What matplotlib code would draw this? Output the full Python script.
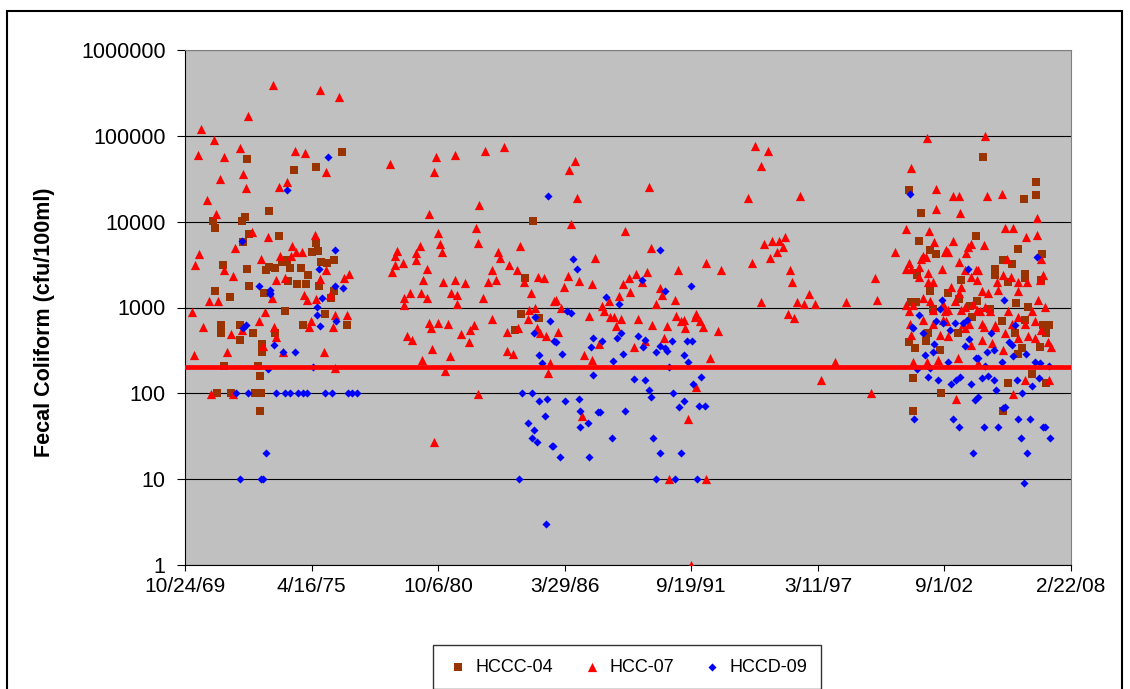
import datetime as dt

import matplotlib
matplotlib.use('Agg')
import matplotlib.pyplot as plt
from matplotlib.patches import Rectangle
from matplotlib.ticker import FixedLocator, NullLocator

plt.rcParams['font.family'] = ['Liberation Sans', 'DejaVu Sans']

# sample date (decimal year), fecal coliform (cfu/100ml)
hccc04 = [
    (1972.50, 54000), (1973.46, 13200), (1971.04, 10200), (1972.26, 10200), (1972.42, 11300),
    (1971.12, 8400), (1972.57, 7200), (1972.34, 5800), (1971.44, 3100), (1972.50, 2800),
    (1973.30, 2700), (1973.46, 3000), (1972.57, 1780), (1971.12, 1540), (1971.76, 1320),
    (1973.23, 1460), (1971.35, 620), (1971.35, 510), (1972.17, 620), (1972.76, 510),
    (1972.19, 415), (1973.15, 375), (1973.15, 305), (1971.52, 210), (1972.99, 210),
    (1973.06, 160), (1971.21, 100), (1971.81, 100), (1972.86, 100), (1973.09, 100),
    (1973.06, 62), (1976.61, 65000), (1974.51, 39600), (1975.46, 43700), (1973.86, 6870),
    (1975.46, 5600), (1975.32, 4400), (1975.56, 4600), (1974.02, 3350), (1974.23, 3550),
    (1975.71, 3400), (1975.97, 3270), (1976.25, 3570), (1973.70, 2900), (1974.35, 2900),
    (1974.83, 2860), (1975.13, 2370), (1974.28, 2050), (1974.66, 1860), (1975.05, 1860),
    (1975.63, 1780), (1976.27, 1540), (1976.12, 1290), (1974.12, 920), (1975.88, 840),
    (1974.92, 625), (1976.84, 620), (1973.70, 500), (1984.85, 10200), (1984.52, 2190),
    (1984.35, 840), (1985.11, 760), (1984.11, 540), (2001.14, 23200), (2001.63, 12600),
    (2001.56, 6000), (2002.03, 4680), (2002.29, 4200), (2004.05, 6870), (2001.46, 2500),
    (2001.46, 2360), (2003.37, 2090), (2002.03, 1540), (2002.82, 1480), (2003.29, 1250),
    (2001.20, 1150), (2001.42, 1150), (2003.76, 1050), (2002.15, 960), (2003.84, 780),
    (2001.31, 152), (2002.51, 101), (2001.31, 62), (2001.39, 340), (2001.14, 400),
    (2001.86, 410), (2002.46, 320), (2001.96, 500), (2003.25, 500), (2004.32, 56200),
    (2006.62, 29200), (2006.62, 20500), (2006.09, 18500), (2005.83, 4840), (2006.89, 4200),
    (2005.22, 3570), (2005.60, 3200), (2004.86, 2830), (2004.86, 2360), (2006.15, 2470),
    (2006.15, 2200), (2006.83, 2090), (2005.43, 2000), (2005.75, 1130), (2004.07, 1180),
    (2004.65, 960), (2006.29, 1020), (2005.15, 690), (2006.15, 720), (2006.93, 625),
    (2007.21, 625), (2005.22, 62), (2005.43, 133), (2007.07, 133), (2005.86, 290),
    (2006.44, 170), (2007.07, 500), (2006.01, 335), (2006.79, 345), (2005.72, 500),
]

hcc07 = [
    (1973.62, 390000), (1972.53, 170000), (1970.52, 120000), (1971.08, 89000), (1970.37, 60000),
    (1971.48, 57000), (1972.21, 73000), (1972.30, 36000), (1971.31, 31000), (1972.46, 24500),
    (1970.76, 17900), (1971.16, 12200), (1972.70, 7600), (1973.42, 6600), (1971.97, 4900),
    (1970.43, 4200), (1970.26, 3100), (1971.48, 2700), (1973.10, 3650), (1971.88, 2300),
    (1970.84, 1200), (1971.24, 1200), (1970.12, 880), (1973.26, 890), (1970.59, 600),
    (1973.02, 700), (1971.79, 490), (1970.21, 280), (1971.64, 300), (1973.19, 360),
    (1970.92, 98), (1971.89, 98), (1972.26, 540),
    (1975.66, 342000), (1976.48, 281000), (1974.55, 66500), (1975.02, 62500), (1975.91, 38000),
    (1974.22, 28800), (1973.89, 25600), (1975.42, 7000), (1974.46, 5200), (1973.90, 4000),
    (1974.39, 4000), (1974.86, 4470), (1974.60, 4470), (1973.75, 2090), (1974.15, 2190),
    (1975.92, 2700), (1975.66, 2170), (1976.67, 2200), (1976.90, 2440), (1974.96, 1400),
    (1975.09, 1220), (1975.49, 1250), (1976.08, 1400), (1973.56, 1280), (1976.28, 820),
    (1976.80, 820), (1975.25, 700), (1975.16, 600), (1976.22, 600), (1973.65, 600),
    (1973.73, 450), (1975.82, 300), (1976.29, 195), (1974.06, 300),
    (1978.68, 46500), (1980.68, 57000), (1980.59, 38000), (1981.51, 60000), (1982.80, 66500),
    (1983.60, 73500), (1982.55, 15600), (1980.36, 12200), (1982.40, 8500), (1980.76, 7400),
    (1982.47, 5700), (1980.84, 5500), (1980.92, 4400), (1979.98, 5200), (1979.79, 4350),
    (1979.79, 3570), (1978.98, 4500), (1978.90, 4000), (1978.90, 3100), (1978.77, 2570),
    (1979.25, 3300), (1980.28, 2830), (1984.32, 5200), (1983.34, 4450), (1983.43, 3800),
    (1983.83, 3150), (1984.16, 2710), (1983.11, 2700), (1982.94, 2000), (1983.28, 2090),
    (1980.12, 2090), (1980.99, 2000), (1981.51, 2090), (1981.91, 1910), (1984.49, 2000),
    (1985.08, 2290), (1985.36, 2210), (1979.56, 1480), (1979.30, 1280), (1979.30, 1080),
    (1980.01, 1480), (1980.26, 1280), (1981.31, 1480), (1981.59, 1400), (1981.59, 1100),
    (1982.71, 1280), (1984.80, 1490), (1985.76, 1200), (1984.94, 1000), (1984.71, 930),
    (1984.63, 730), (1983.11, 740), (1980.36, 660), (1980.45, 570), (1980.76, 660),
    (1981.17, 640), (1982.31, 625), (1982.16, 540), (1981.75, 490), (1982.08, 400),
    (1979.41, 470), (1979.65, 420), (1980.51, 330), (1981.26, 275), (1980.05, 245),
    (1981.08, 180), (1983.75, 520), (1984.23, 570), (1983.74, 315), (1984.00, 287),
    (1985.04, 570), (1985.19, 510), (1985.43, 460), (1985.51, 171), (1985.60, 224),
    (1982.47, 99), (1980.59, 27),
    (1986.67, 51000), (1986.44, 40000), (1986.76, 18900), (1986.53, 9400), (1989.88, 25600),
    (1988.85, 7700), (1987.56, 3800), (1989.96, 4900), (1986.37, 2300), (1986.20, 1720),
    (1986.84, 2020), (1987.40, 1900), (1985.88, 1220), (1986.09, 1000), (1989.32, 2440),
    (1989.00, 2200), (1988.75, 1900), (1989.80, 2600), (1989.57, 2000), (1989.07, 1500),
    (1988.60, 1350), (1990.35, 1700), (1990.46, 1380), (1990.20, 1100), (1988.15, 1200),
    (1987.85, 1040), (1987.96, 900), (1988.20, 780), (1988.39, 780), (1988.68, 730),
    (1988.46, 610), (1987.31, 800), (1991.16, 2700), (1991.00, 1220), (1992.35, 3270),
    (1992.98, 2700), (1991.06, 800), (1991.25, 700), (1991.42, 720), (1991.46, 570),
    (1991.92, 830), (1991.86, 780), (1992.10, 700), (1992.21, 600), (1992.85, 530),
    (1989.39, 740), (1990.03, 630), (1990.68, 610), (1990.53, 445), (1985.94, 520),
    (1987.06, 280), (1987.40, 245), (1987.72, 377), (1989.25, 345), (1992.52, 255),
    (1991.92, 117), (1991.56, 50), (1986.99, 55), (1990.75, 10), (1992.35, 10),
    (1991.72, 1), (1989.70, 410),
    (1994.48, 76700), (1995.03, 66500), (1994.72, 44500), (1994.16, 19000), (1996.42, 20100),
    (1994.86, 5450), (1995.19, 6000), (1995.51, 6000), (1995.78, 6700), (1995.68, 5100),
    (1995.44, 4400), (1995.12, 3800), (1994.32, 3300), (1996.00, 2700), (1996.08, 2000),
    (1996.82, 1420), (1994.72, 1150), (1996.30, 1150), (1996.59, 1100), (1997.06, 1100),
    (1995.91, 830), (1996.17, 760), (1998.42, 1150), (1999.65, 2200), (1999.74, 1220),
    (2000.52, 4450), (1997.93, 234), (1997.31, 142), (1999.49, 100),
    (2001.91, 94400), (2001.24, 41900), (2002.30, 24200), (2003.02, 20100), (2003.29, 20100),
    (2002.30, 14000), (2003.34, 12700), (2001.02, 8150), (2001.99, 7800), (2002.22, 5750),
    (2003.02, 6000), (2002.75, 4680), (2002.84, 4400), (2002.67, 4400), (2001.72, 4000),
    (2001.65, 3650), (2001.88, 3900), (2003.68, 5100), (2003.83, 5500), (2003.61, 4300),
    (2001.13, 3270), (2001.02, 2840), (2001.24, 2840), (2001.55, 3000), (2001.56, 2280),
    (2002.56, 2840), (2003.28, 3400), (2003.54, 2750), (2003.83, 2280), (2004.04, 2750),
    (2001.94, 2500), (2001.94, 2000), (2002.17, 2000), (2002.97, 1750), (2003.29, 1480),
    (2003.40, 1750), (2001.02, 1070), (2001.13, 900), (2001.31, 1070), (2001.75, 1290),
    (2002.03, 1180), (2002.17, 930), (2002.61, 1110), (2002.68, 900), (2002.82, 930),
    (2003.11, 1180), (2003.40, 930), (2003.54, 1020), (2003.90, 1110), (2004.07, 930),
    (2001.17, 650), (2001.75, 720), (2002.75, 690), (2003.47, 650), (2003.75, 650),
    (2001.31, 234), (2002.39, 245), (2003.25, 255), (2003.18, 85), (2002.17, 650),
    (2002.61, 720), (2003.54, 575), (2003.83, 365), (2001.24, 480), (2002.46, 480),
    (2002.82, 460), (2001.89, 234),
    (2004.43, 99500), (2004.50, 20100), (2005.15, 21000), (2006.66, 10900), (2005.29, 8500),
    (2005.64, 8500), (2006.19, 6700), (2006.66, 7000), (2004.36, 5300), (2005.36, 3700),
    (2006.86, 3700), (2006.93, 2360), (2006.79, 2090), (2005.22, 2360), (2005.54, 2250),
    (2005.86, 2000), (2006.22, 2000), (2004.14, 2700), (2004.07, 2090), (2004.93, 2000),
    (2005.86, 1560), (2004.29, 1540), (2004.57, 1480), (2005.00, 1600), (2006.71, 1220),
    (2007.00, 1020), (2004.43, 1020), (2004.22, 900), (2004.65, 900), (2005.43, 900),
    (2005.86, 780), (2006.44, 900), (2006.58, 690), (2006.15, 650), (2004.29, 650),
    (2004.86, 625), (2005.58, 650), (2005.62, 98), (2007.21, 143), (2006.15, 143),
    (2004.36, 600), (2004.86, 600), (2005.29, 500), (2005.86, 440), (2006.29, 460),
    (2006.58, 440), (2007.13, 400), (2007.28, 350), (2004.29, 420), (2004.72, 390),
    (2005.22, 320), (2006.86, 540), (2004.14, 224),
]

hccd09 = [
    (1972.29, 6000), (1973.00, 1800), (1973.48, 1460), (1972.33, 580), (1972.47, 620),
    (1973.40, 190), (1972.04, 100), (1972.54, 100), (1973.33, 20), (1972.20, 10),
    (1973.12, 10), (1973.19, 10),
    (1975.98, 57000), (1974.22, 23200), (1976.31, 4680), (1975.59, 2830), (1976.31, 1800),
    (1976.65, 1700), (1973.50, 1600), (1973.50, 1420), (1975.75, 1280), (1975.52, 1020),
    (1975.52, 820), (1973.67, 370), (1976.36, 700), (1975.66, 610), (1974.06, 300),
    (1974.55, 300), (1975.35, 205), (1973.73, 100), (1974.13, 100), (1974.35, 100),
    (1974.70, 100), (1974.92, 100), (1975.11, 100), (1975.88, 100), (1976.18, 100),
    (1976.87, 100), (1977.05, 100), (1977.24, 100),
    (1985.52, 20100), (1984.97, 780), (1985.61, 700), (1984.90, 500), (1985.78, 410),
    (1985.11, 277), (1985.25, 224), (1984.41, 100), (1984.82, 100), (1985.11, 82),
    (1985.45, 86), (1985.37, 54), (1984.64, 45), (1984.90, 37), (1984.81, 30),
    (1985.04, 27), (1985.67, 24.5), (1984.24, 10), (1985.44, 3),
    (1986.60, 3670), (1986.77, 2830), (1990.36, 4680), (1989.57, 2100), (1991.72, 1800),
    (1990.59, 1560), (1988.04, 1340), (1988.60, 1110), (1986.34, 920), (1986.53, 860),
    (1985.87, 400), (1986.13, 290), (1987.46, 440), (1987.39, 350), (1987.87, 410),
    (1988.68, 500), (1988.52, 440), (1988.75, 290), (1988.34, 235), (1987.47, 165),
    (1989.39, 460), (1989.73, 420), (1989.63, 350), (1990.35, 355), (1990.20, 300),
    (1990.56, 335), (1990.66, 315), (1990.86, 410), (1991.55, 410), (1991.75, 410),
    (1991.41, 280), (1991.58, 230), (1990.75, 205), (1989.25, 148), (1989.73, 142),
    (1989.88, 110), (1989.96, 90), (1990.94, 100), (1991.18, 70), (1991.41, 82),
    (1991.81, 128), (1992.14, 156), (1992.04, 72), (1992.30, 72), (1986.27, 82),
    (1986.84, 86), (1986.90, 62), (1987.24, 45), (1986.91, 40), (1987.70, 60),
    (1987.77, 60), (1988.85, 62), (1988.27, 30), (1990.05, 30), (1985.74, 24.5),
    (1986.03, 18), (1987.31, 18), (1990.36, 20), (1991.25, 20), (1990.20, 10),
    (1991.00, 10), (1991.97, 10),
    (2001.19, 21000), (2003.70, 2840), (2002.55, 1220), (2002.46, 950), (2001.56, 820),
    (2002.32, 700), (2002.61, 660), (2003.11, 660), (2003.47, 660), (2003.64, 720),
    (2001.26, 600), (2001.31, 580), (2001.75, 510), (2002.89, 550), (2002.22, 375),
    (2002.17, 305), (2001.82, 280), (2003.75, 435), (2003.54, 360), (2001.46, 190),
    (2001.96, 155), (2002.06, 195), (2002.80, 230), (2002.39, 143), (2002.97, 128),
    (2003.18, 143), (2003.32, 155), (2003.83, 128), (2004.04, 255), (2003.97, 84),
    (2004.11, 90), (2001.34, 50), (2003.04, 50), (2003.28, 40), (2003.90, 20),
    (2006.66, 3880), (2005.25, 1220), (2005.72, 620), (2004.68, 500), (2005.47, 400),
    (2005.58, 365), (2004.50, 305), (2004.79, 320), (2005.64, 275), (2006.19, 290),
    (2005.15, 234), (2004.12, 255), (2006.58, 234), (2006.79, 225), (2007.21, 210),
    (2004.43, 210), (2004.29, 150), (2004.57, 158), (2004.83, 143), (2005.79, 143),
    (2006.76, 150), (2006.44, 122), (2006.03, 100), (2004.90, 110), (2005.29, 70),
    (2005.22, 68), (2005.86, 50), (2006.36, 50), (2004.36, 40), (2004.98, 40),
    (2006.93, 40), (2007.00, 40), (2005.96, 30), (2007.22, 30), (2006.25, 20),
    (2006.10, 9),
]

standard = 200  # fecal coliform standard, cfu/100ml
y_ticks = [1, 10, 100, 1000, 10000, 100000, 1000000]


def to_date(year):
    y = int(year)
    start = dt.datetime(y, 1, 1)
    return start + (dt.datetime(y + 1, 1, 1) - start) * (year - y)


def unpack(points):
    return [to_date(p[0]) for p in points], [p[1] for p in points]


fig = plt.figure(figsize=(11.3, 6.89), dpi=100)
ax = fig.add_axes([185 / 1130, 1 - 565 / 689, (1071 - 185) / 1130, (565 - 50) / 689])
ax.set_facecolor('#C0C0C0')

x, y = unpack(hccc04)
ax.scatter(x, y, marker='s', s=26, color='#993300', linewidths=0, label='HCCC-04', zorder=3)
x, y = unpack(hcc07)
ax.scatter(x, y, marker='^', s=44, color='#FF0000', linewidths=0, label='HCC-07', zorder=4)
x, y = unpack(hccd09)
ax.scatter(x, y, marker='D', s=17, color='#0000FF', linewidths=0, label='HCCD-09', zorder=5)

ax.axhline(standard, color='#FF0000', linewidth=3.4, zorder=6)

ax.set_yscale('log')
ax.set_ylim(1, 1000000)
ax.yaxis.set_major_locator(FixedLocator(y_ticks))
ax.yaxis.set_minor_locator(NullLocator())
ax.set_yticklabels([str(v) for v in y_ticks])
ax.grid(axis='y', color='black', linewidth=0.8, zorder=1)
ax.set_axisbelow(True)

# excel-style date axis: one tick every 2000 days
start = dt.datetime(1969, 10, 24)
x_ticks = [start + dt.timedelta(days=2000 * k) for k in range(8)]
ax.set_xlim(x_ticks[0], x_ticks[-1])
ax.set_xticks(x_ticks)
ax.set_xticklabels([f"{d.month}/{d.day}/{d:%y}" for d in x_ticks])
ax.xaxis.set_minor_locator(NullLocator())

ax.tick_params(axis='both', direction='out', width=0.8, colors='black')
ax.tick_params(axis='y', length=6, pad=8, labelsize=15.5)
ax.tick_params(axis='x', length=4, pad=5, labelsize=15)
for side in ('top', 'right'):
    ax.spines[side].set_color('#808080')
for side in ('left', 'bottom'):
    ax.spines[side].set_color('black')

fig.text(45 / 1130, 1 - 322 / 689, 'Fecal Coliform (cfu/100ml)', rotation=90,
         ha='center', va='center', fontsize=15.5, fontweight='bold')

leg = fig.legend(loc='center', bbox_to_anchor=(627 / 1130, 1 - 667 / 689), ncol=3,
                 fontsize=13, frameon=True, fancybox=False, edgecolor='black',
                 handletextpad=0.3, columnspacing=1.5, borderpad=0.75, handlelength=1.3,
                 borderaxespad=0, scatterpoints=1)
leg.get_frame().set_linewidth(1.0)

fig.add_artist(Rectangle((7 / 1130, -0.02), (1122 - 7) / 1130, 1 - 11 / 689 + 0.02,
                         transform=fig.transFigure, fill=False, edgecolor='black', linewidth=1.5))

fig.savefig('out.png', dpi=100, facecolor='white')
